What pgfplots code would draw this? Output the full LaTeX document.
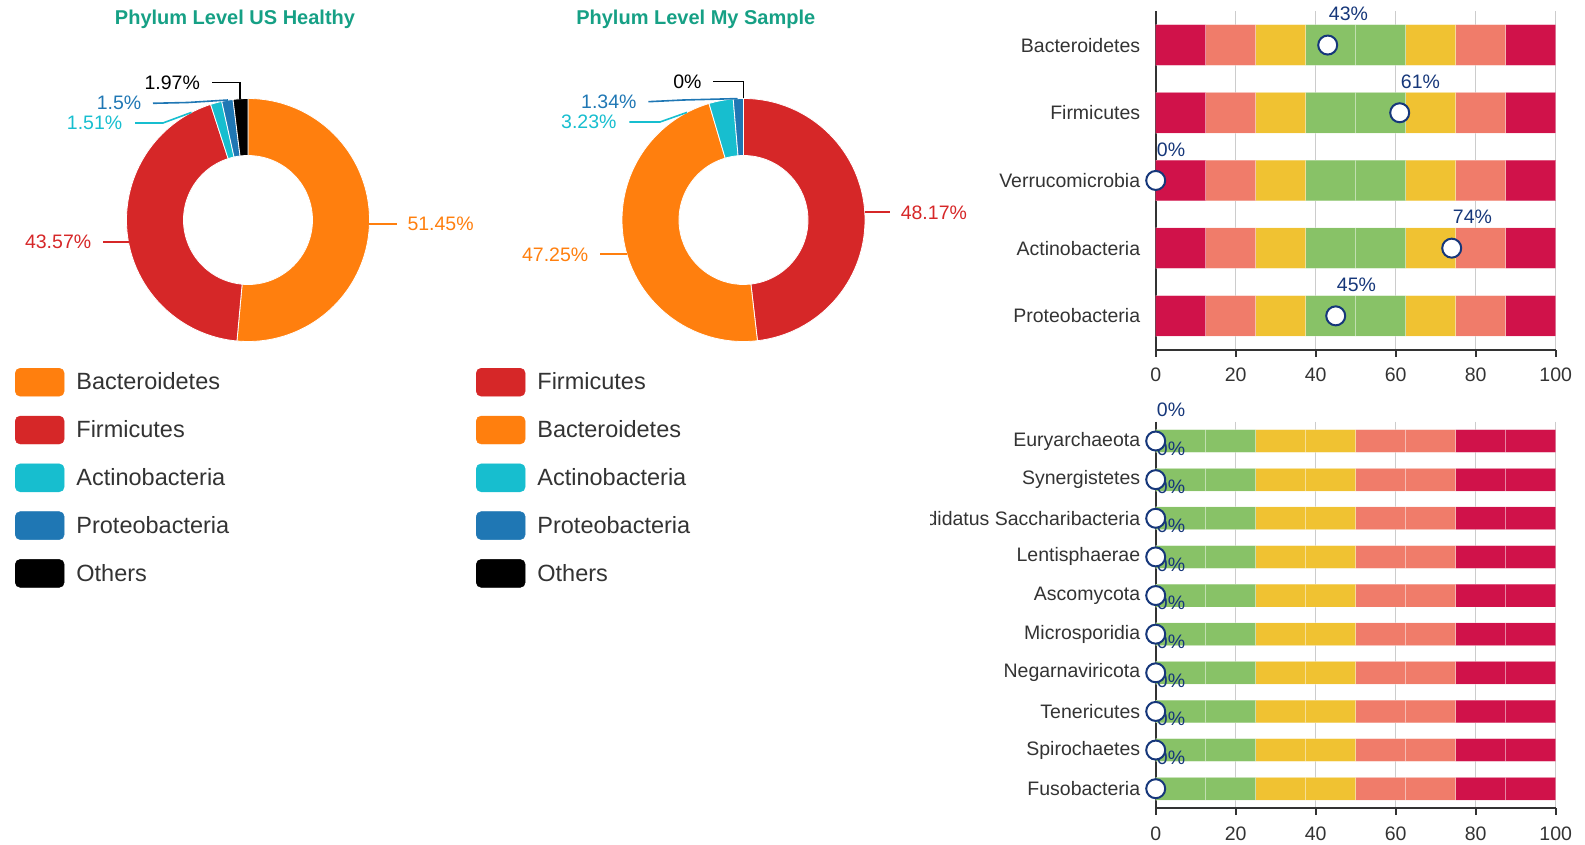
\documentclass[border=0pt]{standalone}
\usepackage{fontspec}
\setmainfont{Liberation Sans}
\usepackage{pgfplots}
\usepackage{pgfplotstable}
\pgfplotsset{compat=1.18}
\pgfkeys{/pgf/number format/assume math mode=true}

\definecolor{cBact}{HTML}{FF7F0E}
\definecolor{cFirm}{HTML}{D62728}
\definecolor{cActi}{HTML}{17BECF}
\definecolor{cProt}{HTML}{1F77B4}
\definecolor{cOth}{HTML}{000000}
\definecolor{cTeal}{HTML}{16A085}
\definecolor{cCrim}{HTML}{D0124A}
\definecolor{cSalm}{HTML}{F07C6A}
\definecolor{cYell}{HTML}{F0C232}
\definecolor{cGree}{HTML}{88C267}
\definecolor{cNavy}{HTML}{16377A}
\definecolor{cText}{HTML}{333333}
\definecolor{cGrid}{HTML}{CCCCCC}

\newcommand\fs[1]{\fontsize{#1pt}{#1pt}\selectfont}

% donut data: share, colour, leader line (start, elbow, end) in px from centre
\pgfplotstableread{
name           val   col   sx     sy    ex     ey    lx     ly    anc  dx
Bacteroidetes  51.45 cBact 121.4  -4    121.4  -4    148.7  -4    west 10
Firmicutes     43.57 cFirm -119.5 -22   -119.5 -22   -145   -22   east -11
Actinobacteria 1.51  cActi -56.5  107.6 -85    97    -113   97    east -12
Proteobacteria 1.5   cProt -20    120   -60    117.5 -95    116.7 east -11
Others         1.97  cOth  -8     121.2 -8     137.3 -36.3  137.3 east -11
}\usdata

\pgfplotstableread{
name           val   col   sx     sy    ex     ey    lx     ly    anc  dx
Firmicutes     48.17 cFirm 121.3  7.7   121.3  7.7   146.5  7.7   west 10
Bacteroidetes  47.25 cBact -116.8 -34.3 -116.8 -34.3 -143.5 -34.3 east -11
Actinobacteria 3.23  cActi -56.5  107.6 -83.5  98    -114.2 98    east -12
Proteobacteria 1.34  cProt -6     121.4 -60    120   -95.2  118.3 east -11
Others         0     cOth  0      121.5 0      138.3 -30.2  138.3 east -11
}\mydata

% bar bands (12.5 each) and the sample value per phylum
\pgfplotstableread{
y s1   s2   s3   s4   s5   s6   s7   s8   v
1 12.5 12.5 12.5 12.5 12.5 12.5 12.5 12.5 43
2 12.5 12.5 12.5 12.5 12.5 12.5 12.5 12.5 61
3 12.5 12.5 12.5 12.5 12.5 12.5 12.5 12.5 0
4 12.5 12.5 12.5 12.5 12.5 12.5 12.5 12.5 74
5 12.5 12.5 12.5 12.5 12.5 12.5 12.5 12.5 45
}\topdata

\pgfplotstableread{
y  s1   s2   s3   s4   s5   s6   s7   s8   v
1  12.5 12.5 12.5 12.5 12.5 12.5 12.5 12.5 0
2  12.5 12.5 12.5 12.5 12.5 12.5 12.5 12.5 0
3  12.5 12.5 12.5 12.5 12.5 12.5 12.5 12.5 0
4  12.5 12.5 12.5 12.5 12.5 12.5 12.5 12.5 0
5  12.5 12.5 12.5 12.5 12.5 12.5 12.5 12.5 0
6  12.5 12.5 12.5 12.5 12.5 12.5 12.5 12.5 0
7  12.5 12.5 12.5 12.5 12.5 12.5 12.5 12.5 0
8  12.5 12.5 12.5 12.5 12.5 12.5 12.5 12.5 0
9  12.5 12.5 12.5 12.5 12.5 12.5 12.5 12.5 0
10 12.5 12.5 12.5 12.5 12.5 12.5 12.5 12.5 0
}\botdata

\newcommand\donut[1]{%
  \pgfplotsextra{%
    \pgfplotstablegetrowsof{#1}%
    \pgfmathtruncatemacro\nr{\pgfplotsretval-1}%
    \gdef\cum{0}%
    \foreach \i in {0,...,\nr}{%
      \pgfplotstablegetelem{\i}{val}\of{#1}\let\sv\pgfplotsretval
      \pgfplotstablegetelem{\i}{col}\of{#1}\let\sc\pgfplotsretval
      \pgfmathsetmacro\aa{90-3.6*\cum}%
      \pgfmathsetmacro\bb{90-3.6*(\cum+\sv)}%
      \fill[\sc, draw=white, line width=0.8pt]
        (axis cs:{cos(\aa)},{sin(\aa)}) arc[start angle=\aa, end angle=\bb, radius=121.5pt]
        -- (axis cs:{0.531*cos(\bb)},{0.531*sin(\bb)}) arc[start angle=\bb, end angle=\aa, radius=64.5pt]
        -- cycle;
      \pgfmathsetmacro\nc{\cum+\sv}\xdef\cum{\nc}%
    }%
    \foreach \i in {0,...,\nr}{%
      \pgfplotstablegetelem{\i}{val}\of{#1}\let\sv\pgfplotsretval
      \pgfplotstablegetelem{\i}{col}\of{#1}\let\sc\pgfplotsretval
      \pgfplotstablegetelem{\i}{sx}\of{#1}\let\psx\pgfplotsretval
      \pgfplotstablegetelem{\i}{sy}\of{#1}\let\psy\pgfplotsretval
      \pgfplotstablegetelem{\i}{ex}\of{#1}\let\pex\pgfplotsretval
      \pgfplotstablegetelem{\i}{ey}\of{#1}\let\pey\pgfplotsretval
      \pgfplotstablegetelem{\i}{lx}\of{#1}\let\plx\pgfplotsretval
      \pgfplotstablegetelem{\i}{ly}\of{#1}\let\ply\pgfplotsretval
      \pgfplotstablegetelem{\i}{anc}\of{#1}\let\pan\pgfplotsretval
      \pgfplotstablegetelem{\i}{dx}\of{#1}\let\pdx\pgfplotsretval
      \draw[\sc, line width=1.6pt]
        (axis cs:{\psx/121.5},{\psy/121.5}) -- (axis cs:{\pex/121.5},{\pey/121.5})
        -- (axis cs:{\plx/121.5},{\ply/121.5})
        node[anchor=\pan, xshift=\pdx pt, inner sep=0pt, text=\sc, font=\fs{19.5}]
        {\pgfmathprintnumber{\sv}\%};
    }%
  }%
}

\pgfplotsset{
  donutax/.style={
    scale only axis, width=243pt, height=243pt, anchor=center,
    xmin=-1, xmax=1, ymin=-1, ymax=1, hide axis, clip=false,
    title style={anchor=base, yshift=0pt, font=\bfseries\fs{20}, text=cTeal},
    legend image code/.code={\fill[##1, rounded corners=5pt] (0pt,-14pt) rectangle (49pt,14pt);},
    legend cell align=left,
    legend style={anchor=north west, draw=none, fill=none, inner sep=0pt, outer sep=0pt,
      row sep=19.4pt, font=\fs{23.5}, text=cText, nodes={inner sep=0pt},
      /tikz/every odd column/.append style={column sep=12pt}},
  },
  barax/.style={
    scale only axis, width=400pt, anchor=south west,
    xmin=0, xmax=100, y dir=reverse,
    xbar stacked, bar width=#1,
    axis x line*=bottom, axis y line*=left,
    axis line style={cText, line width=2pt, -},
    xtick={0,20,...,100}, xmajorgrids, grid style={cGrid, line width=1.5pt},
    major tick length=7pt, minor tick length=10pt, tick align=outside,
    xtick style={cText, line width=2pt},
    ytick style={draw=none},
    minor tick style={cText, line width=2pt},
    tick label style={font=\fs{19.5}, text=cText},
    yticklabel style={xshift=-5pt},
    xticklabel style={yshift=-8pt},
  },
  seg/.style={fill=#1, draw=white, draw opacity=0.3, line width=0.8pt},
  dotax/.style={
    scale only axis, width=400pt, anchor=south west,
    xmin=0, xmax=100, y dir=reverse, hide axis, clip=false,
  },
  labs/.style={only marks, mark=none, point meta=x,
    nodes near coords={\pgfmathprintnumber{\pgfplotspointmeta}\%},
    every node near coord/.append style={anchor=west, xshift=1pt, yshift=31pt,
      inner sep=0pt, font=\fs{19.5}, text=cNavy}},
  dots/.style={only marks, mark=*, mark size=9.5pt,
    mark options={fill=white, draw=cNavy, line width=2pt}},
}

\begin{document}
\begin{tikzpicture}
\useasboundingbox (0pt,0pt) rectangle (1585pt,844pt);

% donut: US healthy
\begin{axis}[donutax, at={(248pt,624pt)},
  title={Phylum Level US Healthy}, title style={at={(0.4465,1.2778)}},
  legend style={at={(-0.4588,-0.1091)}}]
  \donut{\usdata}
  \addlegendimage{cBact}\addlegendentry{Bacteroidetes}
  \addlegendimage{cFirm}\addlegendentry{Firmicutes}
  \addlegendimage{cActi}\addlegendentry{Actinobacteria}
  \addlegendimage{cProt}\addlegendentry{Proteobacteria}
  \addlegendimage{cOth}\addlegendentry{Others}
\end{axis}

% donut: my sample
\begin{axis}[donutax, at={(743.5pt,624pt)},
  title={Phylum Level My Sample}, title style={at={(0.3037,1.2778)}},
  legend style={at={(-0.6008,-0.1091)}}]
  \donut{\mydata}
  \addlegendimage{cFirm}\addlegendentry{Firmicutes}
  \addlegendimage{cBact}\addlegendentry{Bacteroidetes}
  \addlegendimage{cActi}\addlegendentry{Actinobacteria}
  \addlegendimage{cProt}\addlegendentry{Proteobacteria}
  \addlegendimage{cOth}\addlegendentry{Others}
\end{axis}

% top ranges
\begin{axis}[barax=0.6, at={(1155.7pt,494.3pt)}, height=338.5pt,
  ymin=0.5, ymax=5.5, ytick={1,...,5},
  yticklabels={Bacteroidetes,Firmicutes,Verrucomicrobia,Actinobacteria,Proteobacteria},
  minor ytick={0.5,1.5,...,5.5}]
  \addplot[seg=cCrim] table[x=s1,y=y]{\topdata};
  \addplot[seg=cSalm] table[x=s2,y=y]{\topdata};
  \addplot[seg=cYell] table[x=s3,y=y]{\topdata};
  \addplot[seg=cGree] table[x=s4,y=y]{\topdata};
  \addplot[seg=cGree] table[x=s5,y=y]{\topdata};
  \addplot[seg=cYell] table[x=s6,y=y]{\topdata};
  \addplot[seg=cSalm] table[x=s7,y=y]{\topdata};
  \addplot[seg=cCrim] table[x=s8,y=y]{\topdata};
\end{axis}
\begin{axis}[dotax, at={(1155.7pt,494.3pt)}, height=338.5pt, ymin=0.5, ymax=5.5]
  \addplot[labs] table[x=v,y=y]{\topdata};
  \addplot[dots] table[x=v,y=y]{\topdata};
\end{axis}

% bottom ranges
\begin{scope}
\clip (930pt,0pt) rectangle (1585pt,844pt);
\begin{axis}[barax=0.59, at={(1155.7pt,36pt)}, height=386.3pt,
  ymin=0.5, ymax=10.5, ytick={1,...,10},
  yticklabels={Euryarchaeota,Synergistetes,Candidatus Saccharibacteria,Lentisphaerae,Ascomycota,Microsporidia,Negarnaviricota,Tenericutes,Spirochaetes,Fusobacteria},
  minor ytick={0.5,1.5,...,10.5}]
  \addplot[seg=cGree] table[x=s1,y=y]{\botdata};
  \addplot[seg=cGree] table[x=s2,y=y]{\botdata};
  \addplot[seg=cYell] table[x=s3,y=y]{\botdata};
  \addplot[seg=cYell] table[x=s4,y=y]{\botdata};
  \addplot[seg=cSalm] table[x=s5,y=y]{\botdata};
  \addplot[seg=cSalm] table[x=s6,y=y]{\botdata};
  \addplot[seg=cCrim] table[x=s7,y=y]{\botdata};
  \addplot[seg=cCrim] table[x=s8,y=y]{\botdata};
\end{axis}
\end{scope}
\begin{axis}[dotax, at={(1155.7pt,36pt)}, height=386.3pt, ymin=0.5, ymax=10.5]
  \addplot[labs] table[x=v,y=y]{\botdata};
  \addplot[dots] table[x=v,y=y]{\botdata};
\end{axis}
\end{tikzpicture}
\end{document}
